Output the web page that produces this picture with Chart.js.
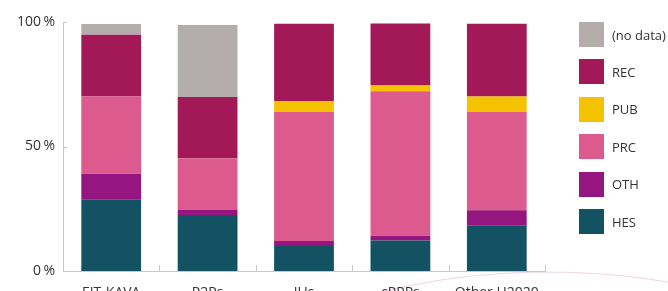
<!DOCTYPE html>
<html>
<head>
<meta charset="utf-8">
<script src="https://cdn.jsdelivr.net/npm/chart.js@4"></script>
<style>
    html, body { margin: 0; padding: 0; background: #fff; overflow: hidden; }
    .wrap { position: relative; width: 668px; height: 291px; overflow: hidden; }
    canvas { position: absolute; left: 0; top: 0; }
    .legend { position: absolute; left: 579px; top: 0; font-family: "Open Sans", sans-serif; font-size: 13px; color: #333; }
    .legend-item { position: absolute; left: 0; display: flex; align-items: center; white-space: nowrap; }
    .legend-box { width: 25px; height: 25px; margin-right: 8px; }
</style>
</head>
<body>
<div class="wrap">
    <canvas id="chart" width="668" height="310"></canvas>
    <div class="legend" id="legend"></div>
</div>
<script>
// Data (% of participation by type)
const categories = ['EIT-KAVA', 'P2Ps', 'JUs', 'cPPPs', 'Other H2020'];
const hes    = [28.8, 22.5, 10.0, 12.2, 18.4];
const oth    = [10.3,  2.0,  2.0,  2.0,  6.0];
const prc    = [31.0, 20.8, 52.0, 58.0, 39.6];
const pub    = [ 0.0,  0.0,  4.3,  2.3,  6.1];
const rec    = [24.8, 24.6, 31.0, 24.9, 29.2];
const noData = [ 4.3, 28.9,  0.0,  0.0,  0.0];
const yTicks = [0, 50, 100];

const seriesNames  = ['HES', 'OTH', 'PRC', 'PUB', 'REC', '(no data)'];
const seriesValues = [hes, oth, prc, pub, rec, noData];
const seriesColors = ['#125263', '#951680', '#dd5a8e', '#f5c200', '#a31857', '#b3aeab'];

const font = '"Open Sans", sans-serif';

// legend, top item is the last series
const legend = document.getElementById('legend');
seriesNames.slice().reverse().forEach((name, i) => {
    const color = seriesColors[seriesNames.length - 1 - i];
    const item = document.createElement('div');
    item.className = 'legend-item';
    item.style.top = (22 + i * 37.4) + 'px';
    item.innerHTML = `<div class="legend-box" style="background:${color}"></div><span>${name}</span>`;
    legend.appendChild(item);
});

// faint decorative arc + upward category ticks
const decor = {
    id: 'decor',
    beforeDraw(chart) {
        const ctx = chart.ctx;
        ctx.save();
        ctx.strokeStyle = '#f1d3e5';
        ctx.lineWidth = 1;
        ctx.beginPath();
        ctx.ellipse(548, 420, 330, 148, 0, Math.PI * 1.05, Math.PI * 1.95);
        ctx.stroke();
        ctx.restore();
    },
    afterDatasetsDraw(chart) {
        const ctx = chart.ctx;
        const x = chart.scales.x, y = chart.scales.y;
        const bottom = chart.chartArea.bottom;
        ctx.save();
        ctx.strokeStyle = '#c8c8c8';
        ctx.lineWidth = 1;
        ctx.beginPath();
        for (let i = 0; i <= categories.length; i++) {
            const px = Math.round(x.getPixelForValue(i - 0.5)) + 0.5;
            ctx.moveTo(px, bottom);
            ctx.lineTo(px, bottom - 6);
        }
        yTicks.forEach(v => {
            const py = Math.round(y.getPixelForValue(v)) + 0.5;
            ctx.moveTo(chart.chartArea.left, py);
            ctx.lineTo(chart.chartArea.left + 4, py);
        });
        ctx.stroke();
        ctx.restore();
    }
};

new Chart(document.getElementById('chart'), {
    type: 'bar',
    data: {
        labels: categories,
        datasets: seriesNames.map((name, i) => ({
            label: name,
            data: seriesValues[i],
            backgroundColor: seriesColors[i],
            borderWidth: 0,
            categoryPercentage: 1,
            barPercentage: 0.62
        }))
    },
    options: {
        responsive: false,
        animation: false,
        layout: { padding: { top: 22, right: 123, left: 0, bottom: 0 } },
        plugins: { legend: { display: false }, tooltip: { enabled: false } },
        scales: {
            x: {
                stacked: true,
                grid: { display: false },
                border: { color: '#c8c8c8' },
                ticks: { color: '#333', font: { family: font, size: 14 }, padding: 6 },
                afterFit: s => { s.height = 39; }
            },
            y: {
                stacked: true,
                min: 0,
                max: 100,
                afterBuildTicks: s => { s.ticks = yTicks.map(v => ({ value: v })); },
                grid: { display: false, drawTicks: false },
                border: { color: '#c8c8c8' },
                ticks: {
                    color: '#333',
                    font: { family: font, size: 14 },
                    padding: 8,
                    callback: v => v + '\u2009%'
                },
                afterFit: s => { s.width = 63; }
            }
        }
    },
    plugins: [decor]
});
</script>
</body>
</html>
